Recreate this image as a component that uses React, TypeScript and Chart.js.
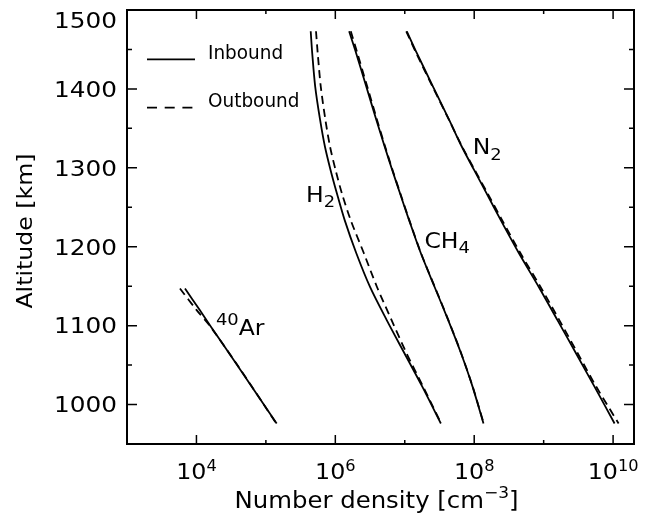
import React, { useEffect, useRef } from "react";
import { Chart, registerables } from "chart.js";

Chart.register(...registerables);

// ---- Data (number density in cm^-3 vs altitude in km) ----
const altitudes = [1473, 1445, 1403, 1361, 1327, 1297, 1268, 1234, 1192, 1149, 1107, 1065, 1023, 976];
const h2Inbound = [4.42e5, 4.65e5, 5.13e5, 6.03e5, 7.08e5, 8.55e5, 1.05e6, 1.36e6, 2.0e6, 3.16e6, 5.5e6, 9.89e6, 1.78e7, 3.31e7];
const h2Outbound = [5.27e5, 5.58e5, 6.17e5, 7.19e5, 8.38e5, 1.01e6, 1.24e6, 1.66e6, 2.57e6, 3.98e6, 6.46e6, 1.06e7, 1.83e7, 3.34e7];
const ch4Inbound = [1.58e6, 2.0e6, 2.79e6, 3.89e6, 5.13e6, 6.61e6, 8.51e6, 1.15e7, 1.7e7, 2.69e7, 4.22e7, 6.46e7, 9.44e7, 1.36e8];
const ch4Outbound = [1.67e6, 2.08e6, 2.88e6, 3.98e6, 5.21e6, 6.68e6, 8.59e6, 1.16e7, 1.71e7, 2.71e7, 4.25e7, 6.49e7, 9.48e7, 1.37e8];
const n2Inbound = [1.07e7, 1.5e7, 2.55e7, 4.34e7, 6.61e7, 1.0e8, 1.5e8, 2.4e8, 4.39e8, 8.51e8, 1.58e9, 2.92e9, 5.37e9, 1.05e10];
const n2Outbound = [1.05e7, 1.47e7, 2.51e7, 4.32e7, 6.68e7, 1.02e8, 1.55e8, 2.51e8, 4.62e8, 9.02e8, 1.68e9, 3.09e9, 5.69e9, 1.2e10];
const arAltitudes = [1147, 1120, 1100, 1050, 1000, 976];
const arInbound = [6.84e3, 1.11e4, 1.58e4, 3.85e4, 9.33e4, 1.43e5];
const arOutbound = [5.79e3, 1.0e4, 1.55e4, 3.89e4, 9.33e4, 1.41e5];

// ---- Axes ----
const xMin = 1e3;
const xMax = 2e10;
const yMin = 950;
const yMax = 1500;
const xMajorTicks = [1e4, 1e6, 1e8, 1e10];
const xMajorExponents = ["4", "6", "8", "10"];
const xMinorTicks = [1e5, 1e7, 1e9];
const yMajorTicks = [1000, 1100, 1200, 1300, 1400, 1500];
const yMinorTicks = [1050, 1150, 1250, 1350, 1450];

// ---- Texts ----
const legendLabels = ["Inbound", "Outbound"];
const speciesLabels = [
  { parts: [["H", 21, 0], ["2", 16, 5]], x: 3.79e5, y: 1257 },
  { parts: [["CH", 21, 0], ["4", 16, 5]], x: 1.92e7, y: 1198 },
  { parts: [["N", 21, 0], ["2", 16, 6.5]], x: 9.5e7, y: 1318 },
  { parts: [["40", 16, -10], ["Ar", 21, 0]], x: 1.91e4, y: 1088 },
];

const FONT = '"DejaVu Sans", sans-serif';
type Part = [string, number, number];

function partsWidth(ctx: CanvasRenderingContext2D, parts: Part[], sx: number) {
  let w = 0;
  for (const [t, size] of parts) {
    ctx.font = `${size}px ${FONT}`;
    w += ctx.measureText(t).width * sx;
  }
  return w;
}

function drawParts(ctx: CanvasRenderingContext2D, parts: Part[], x: number, y: number, sx: number) {
  let cx = x;
  for (const [t, size, dy] of parts) {
    ctx.save();
    ctx.font = `${size}px ${FONT}`;
    ctx.textAlign = "left";
    ctx.textBaseline = "alphabetic";
    ctx.fillStyle = "#000";
    const w = ctx.measureText(t).width * sx;
    ctx.translate(cx, y + dy);
    ctx.scale(sx, 1);
    ctx.fillText(t, 0, 0);
    ctx.restore();
    cx += w;
  }
  return cx - x;
}

const decorPlugin = {
  id: "decor",
  afterDraw(chart: any) {
    const ctx: CanvasRenderingContext2D = chart.ctx;
    const { left, right, top, bottom } = chart.chartArea;
    const xs = chart.scales.x;
    const ys = chart.scales.y;
    ctx.save();
    ctx.strokeStyle = "#000";
    ctx.fillStyle = "#000";

    // frame
    ctx.lineWidth = 2;
    ctx.strokeRect(left, top, right - left, bottom - top);

    // ticks (inward, all four sides)
    ctx.lineWidth = 1.5;
    ctx.beginPath();
    const xt = (v: number, len: number) => {
      const px = xs.getPixelForValue(v);
      ctx.moveTo(px, bottom);
      ctx.lineTo(px, bottom - len);
      ctx.moveTo(px, top);
      ctx.lineTo(px, top + len);
    };
    const yt = (v: number, len: number) => {
      const py = ys.getPixelForValue(v);
      ctx.moveTo(left, py);
      ctx.lineTo(left + len, py);
      ctx.moveTo(right, py);
      ctx.lineTo(right - len, py);
    };
    xMajorTicks.forEach((v) => xt(v, 9));
    xMinorTicks.forEach((v) => xt(v, 4));
    yMajorTicks.forEach((v) => yt(v, 10));
    yMinorTicks.forEach((v) => yt(v, 5));
    ctx.stroke();

    // y tick labels
    const ySize = 21.5;
    const ySx = 1.15;
    const cap = ySize * 0.729;
    yMajorTicks.forEach((v) => {
      let py = ys.getPixelForValue(v);
      if (py < top + 10) py = top + 10;
      const parts: Part[] = [[String(v), ySize, 0]];
      const w = partsWidth(ctx, parts, ySx);
      drawParts(ctx, parts, left - 10 - w, py + cap / 2, ySx);
    });

    // x tick labels: 10^n
    xMajorTicks.forEach((v, i) => {
      const px = xs.getPixelForValue(v);
      const parts: Part[] = [["10", 22, 0], [xMajorExponents[i], 15, -7.5]];
      const w = partsWidth(ctx, parts, 1.08);
      drawParts(ctx, parts, px - w / 2, bottom + 34.5, 1.08);
    });

    // x axis title
    const titleParts: Part[] = [["Number density [cm", 23, 0], ["\u22123", 16, -10], ["]", 23, 0]];
    const tw = partsWidth(ctx, titleParts, 1.06);
    drawParts(ctx, titleParts, (left + right) / 2 - 4 - tw / 2, bottom + 64, 1.06);

    // y axis title
    ctx.save();
    ctx.translate(24, (top + bottom) / 2 + 4);
    ctx.rotate(-Math.PI / 2);
    const yParts: Part[] = [["Altitude [km]", 21.5, 0]];
    const yw = partsWidth(ctx, yParts, 1.1);
    drawParts(ctx, yParts, -yw / 2, 21.5 * 0.729 / 2, 1.1);
    ctx.restore();

    // species labels
    speciesLabels.forEach((lab) => {
      const px = xs.getPixelForValue(lab.x);
      const py = ys.getPixelForValue(lab.y);
      drawParts(ctx, lab.parts as Part[], px, py, 1.12);
    });

    // legend
    const lx0 = left + 20;
    const lx1 = left + 68;
    const rows = [top + 49.3, top + 97.7];
    ctx.lineWidth = 1.7;
    rows.forEach((ry, i) => {
      ctx.beginPath();
      ctx.setLineDash(i === 0 ? [] : [10, 7.7]);
      ctx.moveTo(lx0, ry);
      ctx.lineTo(lx1, ry);
      ctx.stroke();
      ctx.setLineDash([]);
      drawParts(ctx, [[legendLabels[i], 19, 0]], left + 81, ry - (i === 0 ? 0 : 1), 0.97);
    });

    ctx.restore();
  },
};

function makeSet(alts: number[], vals: number[], dashed: boolean) {
  return {
    data: vals.map((v, i) => ({ x: v, y: alts[i] })),
    showLine: true,
    borderColor: "#000",
    backgroundColor: "#000",
    borderWidth: 1.8,
    borderDash: dashed ? [8, 5] : [],
    pointRadius: 0,
    tension: 0.3,
    fill: false,
  };
}

export default function App() {
  const ref = useRef<HTMLCanvasElement | null>(null);
  useEffect(() => {
    document.body.style.margin = "0";
    const canvas = ref.current;
    if (!canvas) return;
    const chart = new Chart(canvas, {
      type: "scatter",
      data: {
        datasets: [
          makeSet(altitudes, h2Outbound, true),
          makeSet(altitudes, h2Inbound, false),
          makeSet(altitudes, ch4Outbound, true),
          makeSet(altitudes, ch4Inbound, false),
          makeSet(altitudes, n2Outbound, true),
          makeSet(altitudes, n2Inbound, false),
          makeSet(arAltitudes, arOutbound, true),
          makeSet(arAltitudes, arInbound, false),
        ] as any,
      },
      options: {
        animation: false,
        responsive: false,
        devicePixelRatio: 1,
        layout: { padding: { left: 0, right: 14, top: 10, bottom: 0 } },
        plugins: { legend: { display: false }, tooltip: { enabled: false } },
        scales: {
          x: {
            type: "logarithmic",
            min: xMin,
            max: xMax,
            grid: { display: false, drawTicks: false },
            border: { display: false },
            ticks: { display: false },
            afterFit: (s: any) => {
              s.height = 73;
            },
          },
          y: {
            type: "linear",
            min: yMin,
            max: yMax,
            grid: { display: false, drawTicks: false },
            border: { display: false },
            ticks: { display: false },
            afterFit: (s: any) => {
              s.width = 127;
            },
          },
        },
      } as any,
      plugins: [decorPlugin],
    });
    return () => chart.destroy();
  }, []);
  return (
    <canvas
      ref={ref}
      width={648}
      height={517}
      style={{ display: "block", width: 648, height: 517, background: "#fff" }}
    />
  );
}
